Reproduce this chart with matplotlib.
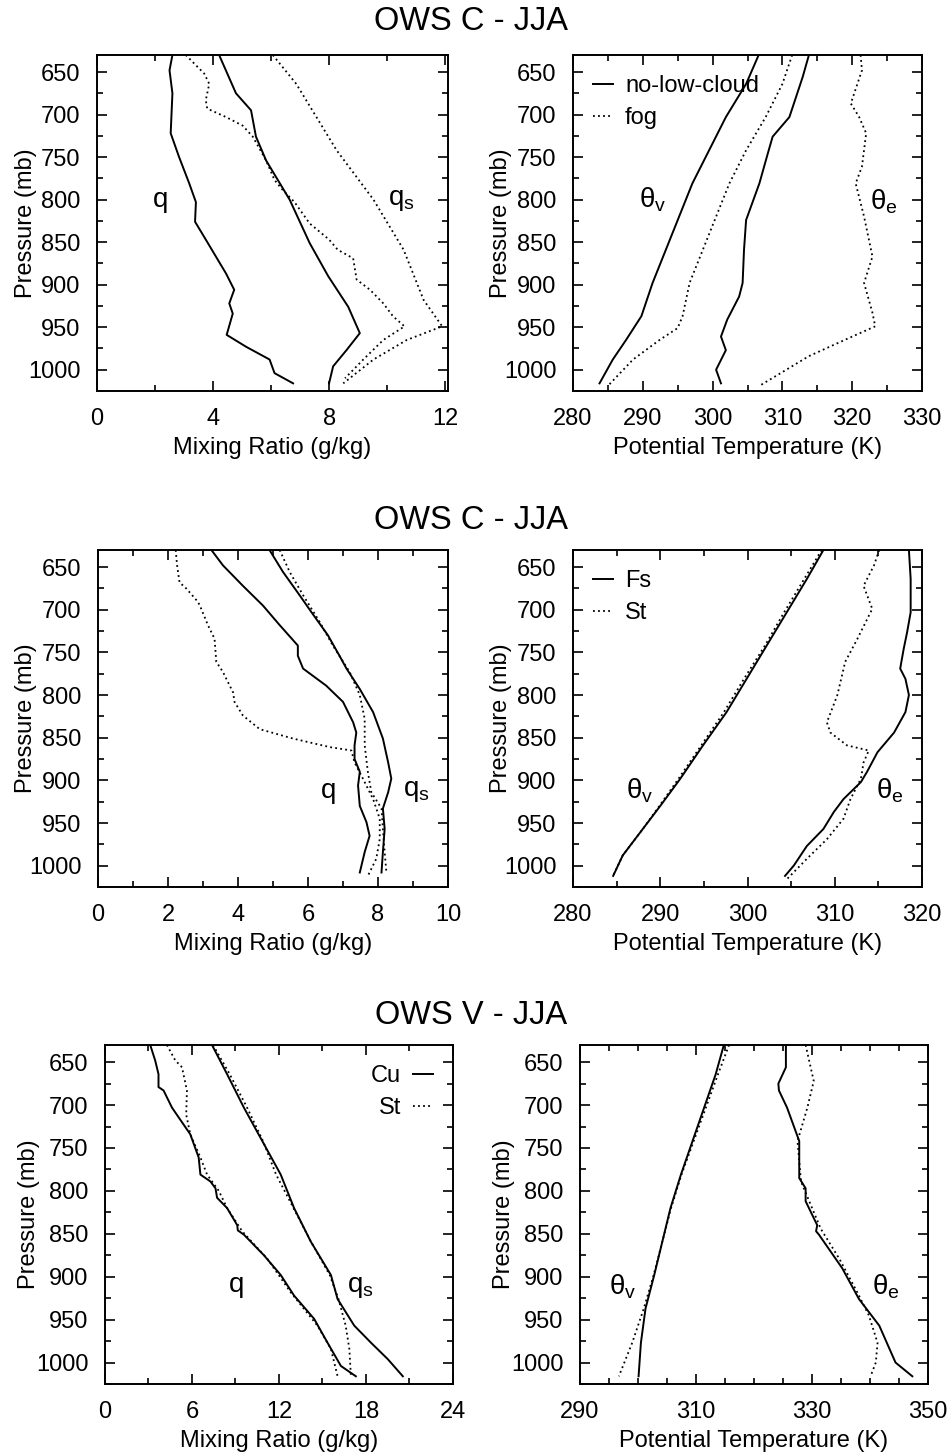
import matplotlib
matplotlib.use('Agg')
import matplotlib.pyplot as plt
from matplotlib.ticker import MultipleLocator, FixedLocator

plt.rcParams['font.family'] = ['Liberation Sans', 'DejaVu Sans']
plt.rcParams['mathtext.default'] = 'regular'

# ---- OWS C - JJA, no-low-cloud vs fog ----
p1_q_nlc = [630, 648, 675, 722, 750, 781, 803, 826, 847, 867, 887, 906, 922, 934, 959, 973, 988, 1004, 1016]
q1_q_nlc = [2.6, 2.5, 2.6, 2.54, 2.83, 3.18, 3.41, 3.38, 3.75, 4.1, 4.45, 4.73, 4.56, 4.68, 4.47, 5.14, 5.95, 6.12, 6.76]
p1_q_fog = [630, 652, 664, 683, 693, 703, 713, 726, 754, 777, 789, 803, 828, 847, 859, 869, 894, 906, 922, 937, 949, 965, 988, 1010]
q1_q_fog = [3.06, 3.7, 3.87, 3.75, 3.8, 4.45, 5.02, 5.37, 5.83, 6.12, 6.41, 6.81, 7.33, 8.0, 8.3, 8.83, 8.95, 9.41, 9.87, 10.2, 10.6, 9.87, 9.18, 8.55]
p1_qs_nlc = [630, 675, 695, 726, 754, 800, 851, 890, 926, 957, 977, 996, 1016]
q1_qs_nlc = [4.21, 4.79, 5.31, 5.48, 5.83, 6.64, 7.33, 7.97, 8.66, 9.06, 8.6, 8.14, 8.0]
p1_qs_fog = [630, 664, 742, 800, 859, 918, 949, 965, 988, 1016]
q1_qs_fog = [6.06, 6.87, 8.26, 9.53, 10.57, 11.26, 11.9, 10.68, 9.53, 8.49]

p2_tv_nlc = [630, 664, 703, 742, 781, 820, 859, 898, 937, 965, 988, 1016]
t2_tv_nlc = [306.6, 304.8, 301.9, 299.5, 297.1, 295.2, 293.3, 291.4, 289.8, 287.6, 285.7, 283.8]
p2_tv_fog = [630, 664, 703, 742, 781, 820, 859, 898, 937, 951, 965, 988, 1019]
t2_tv_fog = [311.4, 310.0, 307.6, 304.8, 302.4, 300.5, 298.6, 296.7, 295.7, 295.0, 292.4, 288.6, 285.0]
p2_te_nlc = [630, 656, 703, 726, 746, 781, 824, 859, 898, 914, 941, 961, 977, 1000, 1016]
t2_te_nlc = [313.8, 312.9, 311.0, 308.6, 307.9, 306.7, 304.8, 304.5, 304.3, 303.8, 302.1, 301.2, 301.9, 300.5, 301.2]
p2_te_fog = [630, 648, 687, 703, 722, 761, 781, 820, 867, 898, 933, 949, 961, 984, 1019]
t2_te_fog = [321.2, 321.4, 319.8, 321.0, 322.0, 321.4, 320.5, 321.7, 322.9, 321.7, 322.9, 323.3, 320.0, 313.8, 306.7]

# ---- OWS C - JJA, Fs vs St ----
p3_q_fs = [630, 648, 672, 695, 718, 742, 754, 769, 789, 808, 832, 844, 859, 875, 890, 906, 930, 949, 965, 984, 1008]
q3_q_fs = [3.24, 3.57, 4.14, 4.71, 5.19, 5.71, 5.71, 5.86, 6.52, 7.0, 7.29, 7.38, 7.33, 7.33, 7.48, 7.43, 7.48, 7.67, 7.76, 7.62, 7.48]
p3_q_st = [630, 648, 668, 675, 691, 699, 718, 734, 761, 773, 797, 808, 824, 840, 851, 861, 865, 879, 898, 922, 945, 969, 992, 1012]
q3_q_st = [2.22, 2.26, 2.33, 2.52, 2.86, 2.95, 3.14, 3.33, 3.38, 3.57, 3.86, 3.9, 4.14, 4.62, 5.57, 6.62, 7.24, 7.33, 7.57, 7.86, 8.05, 8.05, 7.95, 7.71]
p3_qs_fs = [630, 656, 683, 703, 730, 754, 769, 793, 820, 851, 879, 898, 914, 933, 957, 984, 1008]
q3_qs_fs = [4.9, 5.29, 5.76, 6.1, 6.57, 6.9, 7.1, 7.48, 7.86, 8.14, 8.29, 8.38, 8.29, 8.14, 8.19, 8.14, 8.1]
p3_qs_st = [630, 656, 683, 714, 742, 773, 800, 828, 859, 890, 914, 933, 957, 984, 1008]
q3_qs_st = [5.19, 5.48, 5.86, 6.33, 6.71, 7.19, 7.48, 7.62, 7.62, 7.71, 7.81, 8.1, 8.14, 8.19, 8.24]

p4_tv_fs = [630, 664, 703, 742, 781, 820, 859, 898, 930, 957, 988, 1012]
t4_tv_fs = [308.7, 306.8, 304.5, 302.2, 299.9, 297.6, 294.9, 292.3, 290.0, 288.0, 285.7, 284.6]
p4_tv_st = [630, 664, 703, 742, 781, 820, 859, 898, 930, 957, 988, 1014]
t4_tv_st = [308.5, 306.5, 304.2, 302.0, 299.6, 297.3, 294.7, 292.1, 289.9, 288.0, 285.7, 284.5]
p4_te_fs = [630, 664, 703, 726, 746, 769, 781, 800, 820, 844, 867, 890, 902, 922, 937, 957, 977, 1000, 1012]
t4_te_fs = [318.5, 318.7, 318.7, 318.3, 317.9, 317.5, 318.1, 318.5, 318.1, 316.8, 314.9, 313.7, 313.0, 311.0, 309.9, 308.7, 306.8, 305.3, 304.3]
p4_te_st = [630, 648, 672, 699, 734, 761, 800, 832, 844, 859, 865, 879, 898, 922, 945, 969, 992, 1016]
t4_te_st = [315.1, 314.5, 313.3, 314.3, 312.6, 311.2, 310.3, 309.1, 309.5, 311.4, 313.9, 313.3, 313.0, 311.8, 311.0, 309.1, 306.8, 304.5]

# ---- OWS V - JJA, Cu vs St ----
p5_q_cu = [630, 648, 664, 679, 683, 703, 734, 761, 781, 789, 797, 808, 820, 840, 846, 851, 875, 898, 922, 949, 977, 1004, 1016]
q5_q_cu = [3.12, 3.46, 3.69, 3.69, 4.04, 4.62, 5.88, 6.46, 6.58, 7.27, 7.62, 7.73, 8.42, 9.12, 9.16, 9.58, 10.96, 12.12, 13.04, 14.42, 15.35, 16.27, 17.3]
p5_q_st = [630, 648, 656, 683, 711, 734, 761, 781, 800, 820, 847, 879, 918, 957, 984, 1016]
q5_q_st = [4.27, 4.85, 5.31, 5.65, 5.6, 5.88, 6.58, 7.04, 7.85, 8.42, 9.46, 11.19, 12.8, 14.65, 15.58, 16.04]
p5_qs_cu = [630, 664, 703, 742, 781, 820, 859, 898, 926, 957, 977, 996, 1016]
q5_qs_cu = [7.38, 8.42, 9.58, 10.85, 12.12, 13.04, 14.19, 15.58, 16.04, 17.19, 18.35, 19.5, 20.54]
p5_qs_st = [630, 664, 703, 742, 781, 820, 859, 898, 926, 957, 984, 1016]
q5_qs_st = [7.45, 8.6, 9.8, 10.9, 11.8, 13.0, 14.2, 15.5, 16.1, 16.6, 16.85, 16.96]

p6_tv_cu = [630, 664, 703, 742, 781, 820, 859, 898, 937, 977, 1016]
t6_tv_cu = [314.8, 313.4, 311.4, 309.4, 307.4, 305.6, 304.2, 302.8, 301.3, 300.5, 300.1]
p6_tv_st = [630, 664, 703, 742, 781, 820, 859, 898, 937, 977, 1016]
t6_tv_st = [315.7, 313.8, 311.7, 309.6, 307.5, 305.7, 304.2, 302.7, 301.0, 299.0, 296.7]
p6_te_cu = [630, 656, 675, 683, 703, 742, 785, 797, 812, 840, 847, 851, 890, 926, 957, 1000, 1016]
t6_te_cu = [325.5, 325.5, 324.2, 324.3, 325.7, 327.8, 327.8, 328.9, 328.9, 330.9, 330.7, 331.2, 335.2, 338.1, 341.6, 344.4, 347.3]
p6_te_st = [630, 648, 672, 703, 742, 789, 844, 879, 918, 945, 977, 1000, 1016]
t6_te_st = [328.9, 329.5, 330.3, 329.2, 327.5, 328.1, 331.5, 334.7, 337.8, 339.8, 341.3, 341.0, 340.1]

titles = ['OWS C - JJA', 'OWS C - JJA', 'OWS V - JJA']
theta_ticks = [290, 310, 330, 350]

W, H = 953, 1452
fig = plt.figure(figsize=(W / 100, H / 100), dpi=100)

def box(l, r, t, b):
    return [l / W, 1 - b / H, (r - l) / W, (b - t) / H]

solid = dict(color='black', lw=1.4, ls='-')
dot = dict(color='black', lw=1.3, ls=(0, (1, 1.8)))
fs = 17
lfs = 20
leg = dict(frameon=False, fontsize=fs, handlelength=0.85, handletextpad=0.5,
           borderaxespad=0.55, borderpad=0.3, labelspacing=0.44)

def setup(ax, xlim, major, minor, xlabel, ylx):
    ax.set_xlim(*xlim)
    ax.set_ylim(1025, 630)
    ax.xaxis.set_major_locator(major)
    ax.xaxis.set_minor_locator(MultipleLocator(minor))
    ax.yaxis.set_major_locator(MultipleLocator(50))
    ax.yaxis.set_minor_locator(MultipleLocator(25))
    ax.tick_params(which='both', direction='in', top=True, right=True, labelsize=fs, width=1.2, pad=12)
    ax.tick_params(which='major', length=7)
    ax.tick_params(which='minor', length=4)
    ax.set_xlabel(xlabel, fontsize=fs, labelpad=5)
    ax.set_ylabel('Pressure (mb)', fontsize=fs)
    ax.yaxis.set_label_coords(ylx, 0.5)
    for s in ax.spines.values():
        s.set_linewidth(1.4)

# row 1
ax1 = fig.add_axes(box(97, 448, 55, 391))
ax1.plot(q1_q_nlc, p1_q_nlc, **solid)
ax1.plot(q1_q_fog, p1_q_fog, **dot)
ax1.plot(q1_qs_nlc, p1_qs_nlc, **solid)
ax1.plot(q1_qs_fog, p1_qs_fog, **dot)
setup(ax1, (0, 12.1), MultipleLocator(4), 2, 'Mixing Ratio (g/kg)', -0.171)
ax1.text(2.2, 800, 'q', fontsize=lfs, ha='center', va='center')
ax1.text(10.5, 800, '$q_s$', fontsize=lfs, ha='center', va='center')

ax2 = fig.add_axes(box(573, 922, 55, 391))
ax2.plot(t2_tv_nlc, p2_tv_nlc, label='no-low-cloud', **solid)
ax2.plot(t2_tv_fog, p2_tv_fog, label='fog', **dot)
ax2.plot(t2_te_nlc, p2_te_nlc, **solid)
ax2.plot(t2_te_fog, p2_te_fog, **dot)
setup(ax2, (280, 330), MultipleLocator(10), 5, 'Potential Temperature (K)', -0.175)
ax2.text(291.4, 800, r'$\theta_v$', fontsize=lfs, ha='center', va='center')
ax2.text(324.6, 803, r'$\theta_e$', fontsize=lfs, ha='center', va='center')
ax2.legend(loc='upper left', **leg)

# row 2
ax3 = fig.add_axes(box(98, 448, 550, 887))
ax3.plot(q3_q_fs, p3_q_fs, **solid)
ax3.plot(q3_q_st, p3_q_st, **dot)
ax3.plot(q3_qs_fs, p3_qs_fs, **solid)
ax3.plot(q3_qs_st, p3_qs_st, **dot)
setup(ax3, (0, 10), MultipleLocator(2), 1, 'Mixing Ratio (g/kg)', -0.174)
ax3.text(6.6, 912, 'q', fontsize=lfs, ha='center', va='center')
ax3.text(9.1, 912, '$q_s$', fontsize=lfs, ha='center', va='center')

ax4 = fig.add_axes(box(573, 922, 550, 887))
ax4.plot(t4_tv_fs, p4_tv_fs, label='Fs', **solid)
ax4.plot(t4_tv_st, p4_tv_st, label='St', **dot)
ax4.plot(t4_te_fs, p4_te_fs, **solid)
ax4.plot(t4_te_st, p4_te_st, **dot)
setup(ax4, (280, 320), MultipleLocator(10), 5, 'Potential Temperature (K)', -0.175)
ax4.text(287.7, 912, r'$\theta_v$', fontsize=lfs, ha='center', va='center')
ax4.text(316.3, 912, r'$\theta_e$', fontsize=lfs, ha='center', va='center')
ax4.legend(loc='upper left', **leg)

# row 3
ax5 = fig.add_axes(box(105, 453, 1045, 1384))
ax5.plot(q5_q_cu, p5_q_cu, label='Cu', **solid)
ax5.plot(q5_q_st, p5_q_st, label='St', **dot)
ax5.plot(q5_qs_cu, p5_qs_cu, **solid)
ax5.plot(q5_qs_st, p5_qs_st, **dot)
setup(ax5, (0, 24), MultipleLocator(6), 3, 'Mixing Ratio (g/kg)', -0.187)
ax5.text(9.1, 910, 'q', fontsize=lfs, ha='center', va='center')
ax5.text(17.6, 912, '$q_s$', fontsize=lfs, ha='center', va='center')
ax5.legend(loc='upper right', markerfirst=False, **leg)

ax6 = fig.add_axes(box(580, 928, 1045, 1384))
ax6.plot(t6_tv_cu, p6_tv_cu, **solid)
ax6.plot(t6_tv_st, p6_tv_st, **dot)
ax6.plot(t6_te_cu, p6_te_cu, **solid)
ax6.plot(t6_te_st, p6_te_st, **dot)
setup(ax6, (290, 350), FixedLocator(theta_ticks), 5, 'Potential Temperature (K)', -0.187)
ax6.text(297.3, 912, r'$\theta_v$', fontsize=lfs, ha='center', va='center')
ax6.text(342.7, 912, r'$\theta_e$', fontsize=lfs, ha='center', va='center')

for t, y in zip(titles, [22, 520, 1015]):
    fig.text(471 / W, 1 - y / H, t, fontsize=23.5, ha='center', va='center')

fig.savefig('out.png', dpi=100)
